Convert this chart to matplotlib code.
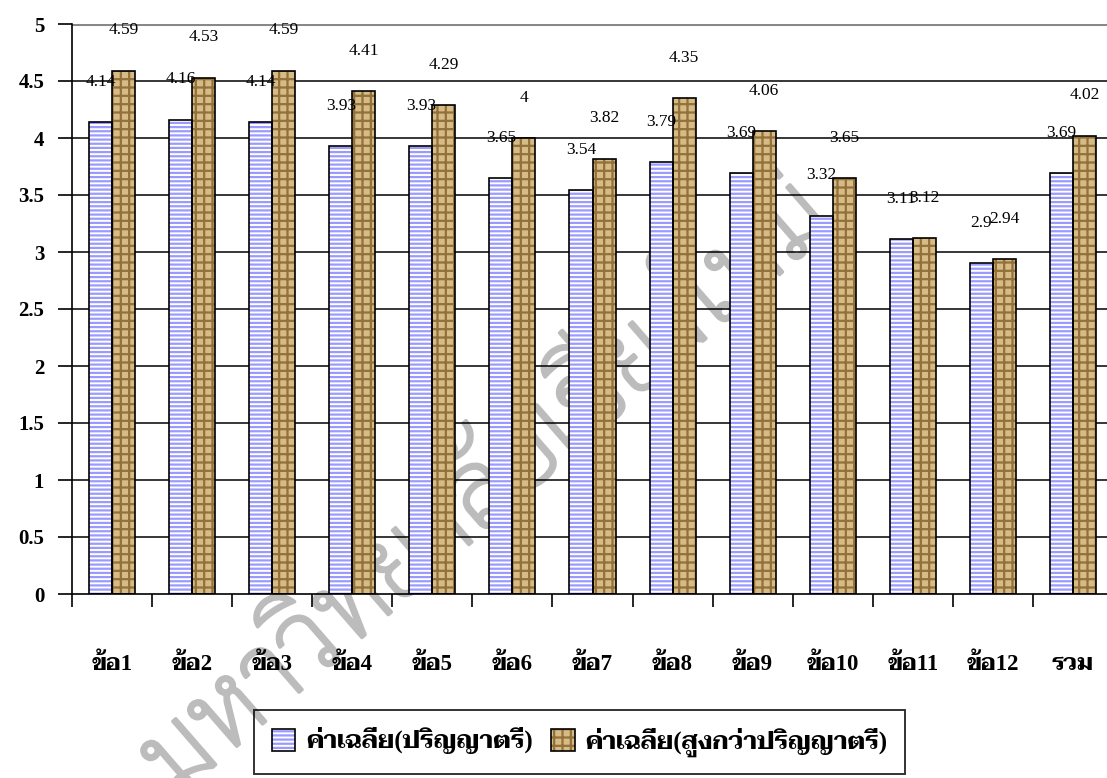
import numpy as np
import matplotlib
matplotlib.use('Agg')
import matplotlib.pyplot as plt
import matplotlib.patheffects as pe
from matplotlib.legend_handler import HandlerTuple

# --- data ---
categories = ['ข้อ1', 'ข้อ2', 'ข้อ3', 'ข้อ4', 'ข้อ5', 'ข้อ6', 'ข้อ7',
              'ข้อ8', 'ข้อ9', 'ข้อ10', 'ข้อ11', 'ข้อ12', 'รวม']
bachelor = [4.14, 4.16, 4.14, 3.93, 3.93, 3.65, 3.54, 3.79, 3.69, 3.32, 3.11, 2.90, 3.69]
above_bachelor = [4.59, 4.53, 4.59, 4.41, 4.29, 4.00, 3.82, 4.35, 4.06, 3.65, 3.12, 2.94, 4.02]
series_names = ['ค่าเฉลี่ย(ปริญญาตรี)', 'ค่าเฉลี่ย(สูงกว่าปริญญาตรี)']
yticks = [0, 0.5, 1, 1.5, 2, 2.5, 3, 3.5, 4, 4.5, 5]
watermark = 'มหาวิทยาลัยเชียงใหม่'

thai_serif = ['Liberation Serif', 'Taviraj', 'Noto Serif Thai', 'DejaVu Sans']
thai_sans = ['Sarabun', 'Noto Sans Thai', 'DejaVu Sans']

plt.rcParams['hatch.linewidth'] = 1.6

W, H = 1107, 778
fig = plt.figure(figsize=(W / 100, H / 100), dpi=100)
fig.patch.set_facecolor('white')

# faint diagonal watermark behind the chart
wm = fig.text(175 / W, 1 - 800 / H, watermark, rotation=41, rotation_mode='anchor',
              ha='left', va='baseline', fontsize=76, family=thai_sans,
              fontweight='light', color='#bcbcbc', zorder=-1)
wm.set_path_effects([pe.withStroke(linewidth=2.5, foreground='#bcbcbc')])

ax = fig.add_axes([72 / W, 1 - 594 / H, (1113 - 72) / W, (594 - 24) / H])
ax.set_facecolor('none')

x = np.arange(len(categories))
w = 0.2875

# gridlines (top one is grey in the original)
for yv in yticks[1:]:
    if yv == yticks[-1]:
        ax.axhline(yv, color='#888888', lw=2.2, zorder=1)
    else:
        ax.axhline(yv, color='black', lw=1.1, zorder=1)

b1 = ax.bar(x - w / 2, bachelor, w, color='white', edgecolor='#9a9aff',
            hatch='----', linewidth=0, zorder=2)
b1o = ax.bar(x - w / 2, bachelor, w, fill=False, edgecolor='black', linewidth=1.2, zorder=3)
b2 = ax.bar(x + w / 2, above_bachelor, w, color='#d6bb86', edgecolor='#92713a',
            hatch='++', linewidth=0, zorder=2)
b2o = ax.bar(x + w / 2, above_bachelor, w, fill=False, edgecolor='black', linewidth=1.2, zorder=3)

# value labels sit well above each bar, like the Excel original
for xs, vals in [(x - w / 2, bachelor), (x + w / 2, above_bachelor)]:
    for xi, v in zip(xs, vals):
        ax.annotate(f'{v:g}', (xi, v), xytext=(0, 29), textcoords='offset points',
                    ha='center', va='center', fontsize=12.5,
                    family='Liberation Serif', zorder=4)

ax.set_xlim(-0.5, len(categories) - 0.5)
ax.set_ylim(0, 5)

ax.set_yticks(yticks)
ax.set_yticklabels([f'{t:g}' for t in yticks], family='Liberation Serif',
                   fontweight='bold', fontsize=15)
ax.tick_params(axis='y', direction='out', length=10, width=1.2, pad=10)

ax.set_xticks(np.arange(-0.5, len(categories), 1))
ax.set_xticklabels([])
ax.tick_params(axis='x', which='major', direction='out', length=9, width=1.2)
ax.set_xticks(x, minor=True)
ax.set_xticklabels(categories, minor=True, family=thai_serif,
                   fontweight='bold', fontsize=16.5)
ax.tick_params(axis='x', which='minor', length=0, pad=43)

for side in ['top', 'right']:
    ax.spines[side].set_visible(False)
for side in ['left', 'bottom']:
    ax.spines[side].set_linewidth(1.2)
    ax.spines[side].set_zorder(3)

leg = fig.legend([(b1[0], b1o[0]), (b2[0], b2o[0])], series_names,
                 handler_map={tuple: HandlerTuple(ndivide=1)},
                 loc='upper left', bbox_to_anchor=(254 / W, 1 - 710 / H),
                 ncol=2, frameon=True, fancybox=False, facecolor='none',
                 edgecolor='black',
                 prop={'family': thai_serif, 'weight': 'bold', 'size': 18},
                 handlelength=0.95, handleheight=0.95, handletextpad=0.45,
                 columnspacing=0.7, borderpad=0.7, borderaxespad=0)
leg.get_frame().set_linewidth(1.4)

fig.savefig('out.png', dpi=100)
